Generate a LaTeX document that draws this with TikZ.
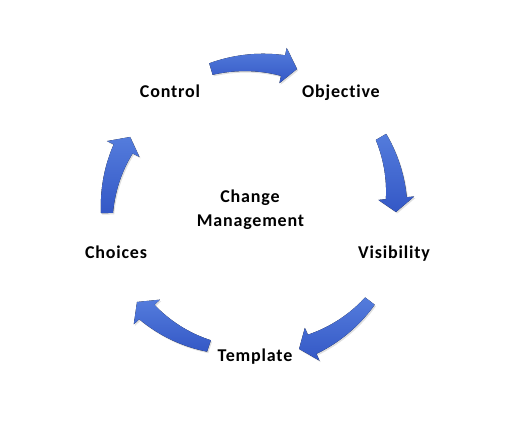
\documentclass[tikz,border=0pt]{standalone}
\usepackage{fontspec}
\setmainfont{Carlito}[LetterSpace=4.5, Ligatures=NoCommon]
\usetikzlibrary{shadows}
\definecolor{arrowlight}{RGB}{84,124,220}
\definecolor{arrowdark}{RGB}{52,88,198}
\tikzset{
  lbl/.style={font=\fontsize{18}{26}\selectfont\bfseries, text=black, inner sep=0pt, anchor=base},
  cyclearrow/.style={top color=arrowlight, bottom color=arrowdark, draw=none,
    drop shadow={opacity=0.25, shadow xshift=1.2pt, shadow yshift=-1.5pt}},
}
% #1 tail angle, #2 tip angle, #3 radius at tail, #4 radius at tip
\newcommand{\cycarrow}[4]{%
  \pgfmathsetmacro{\cyTa}{#1}%
  \pgfmathsetmacro{\cyTb}{#2}%
  \pgfmathsetmacro{\cyRa}{#3}%
  \pgfmathsetmacro{\cyRb}{#4}%
  \pgfmathsetmacro{\cyTm}{\cyTb+5.5}%
  \pgfmathsetmacro{\cyRm}{\cyRa+(\cyRb-\cyRa)*(\cyTa-\cyTm)/(\cyTa-\cyTb)}%
  \fill[cyclearrow]
    plot[domain=\cyTa:\cyTm, samples=24]
      (\x:{\cyRa+(\cyRb-\cyRa)*(\cyTa-\x)/(\cyTa-\cyTb)+6+4.5*(\cyTa-\x)/(\cyTa-\cyTm)})
    -- (\cyTm:{\cyRm+18}) -- (\cyTb:\cyRb) -- (\cyTm:{\cyRm-18})
    -- plot[domain=\cyTm:\cyTa, samples=24]
      (\x:{\cyRa+(\cyRb-\cyRa)*(\cyTa-\x)/(\cyTa-\cyTb)-6-4.5*(\cyTa-\x)/(\cyTa-\cyTm)})
    -- cycle;
}
\begin{document}
\begin{tikzpicture}[x=1pt,y=1pt]
  \useasboundingbox (0,0) rectangle (525,443);
  \fill[white] (0,0) rectangle (525,443);
  \begin{scope}[shift={(253,231)}]
    \cycarrow{106.4}{72.9}{149}{149.6}
    \cycarrow{30.4}{0}{148.4}{143}
    \cycarrow{-37.3}{-71.4}{147}{144.5}
    \cycarrow{-108.2}{-142.2}{141}{146.8}
    \cycarrow{180.4}{148.6}{146}{144}
  \end{scope}
  \node[lbl] (control) at (170,345) {Control};
  \node[lbl] (objective) at (341,345) {Objective};
  \node[lbl] (visibility) at (394,184) {Visibility};
  \node[lbl] (choices) at (116,184) {Choices};
  \node[lbl] (template) at (255,81) {Template};
  \node[lbl] (change) at (250,240) {Change};
  \node[lbl] (management) at (250.5,216.5) {Management};
\end{tikzpicture}
\end{document}
